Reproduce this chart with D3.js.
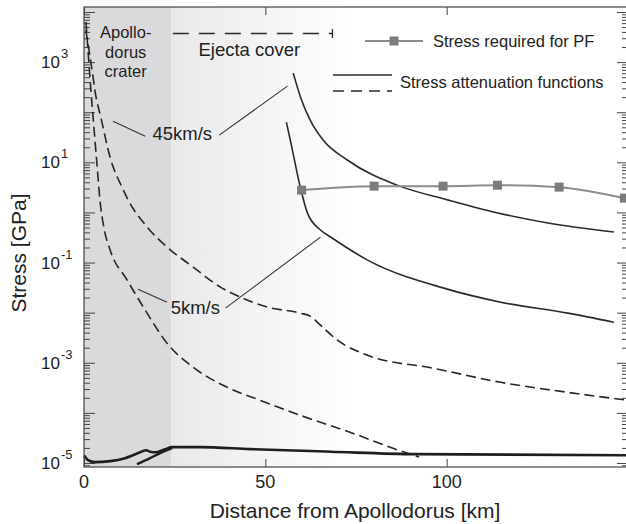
<!DOCTYPE html>
<html>
<head>
<meta charset="utf-8">
<script src="https://cdn.jsdelivr.net/npm/d3@7"></script>
<style>
    body { margin: 0; background: #fff; }
    svg text { font-family: "Liberation Sans", Arial, Helvetica, sans-serif; fill: #222; }
</style>
</head>
<body>
<svg id="chart" width="626" height="524"></svg>
<script>
// Axis values
const kmTicks = [0, 50, 100];
const labelExps = [3, 1, -1, -3, -5];

// Stress required for PF
const pfKm = [60, 80, 99, 114, 131, 149];
const pfGpa = [2.79, 3.35, 3.35, 3.5, 3.2, 1.93];

// Attenuation, 45 km/s, solid
const solid45Km = [57.7, 59.7, 62.4, 66.0, 72.7, 86.5, 100.3, 114.1, 127.9, 146.1];
const solid45Gpa = [603, 200, 69, 27.5, 11, 3.47, 1.78, 0.977, 0.617, 0.407];

// Attenuation, 5 km/s, solid
const solid5Km = [55.8, 56.9, 59.7, 61.6, 65.2, 68.0, 78.2, 99.2, 114.9, 133.4, 146.1];
const solid5Gpa = [63, 27.5, 3.05, 0.98, 0.447, 0.324, 0.112, 0.0309, 0.0162, 0.0098, 0.00646];

// Attenuation, 45 km/s, dashed
const dashed45Km = [0.5, 2.5, 3.0, 4.7, 7.2, 10.5, 12.2, 17.4, 22.9, 30.1, 37.6, 43.1, 50.6, 59.7, 62.4, 65.2, 69.9, 78.2, 96.4, 114.9, 133.4, 150];
const dashed45Gpa = [4370, 501, 275, 75.9, 12.6, 3.16, 1.76, 0.513, 0.204, 0.0813, 0.0324, 0.0204, 0.0129, 0.00977, 0.00851, 0.00562, 0.00282, 0.00141, 0.000776, 0.000407, 0.000257, 0.000178];

// Attenuation, 5 km/s, dashed
const dashed5Km = [0.55, 1.1, 1.9, 2.8, 3.6, 4.4, 5.5, 7.2, 11.9, 17.4, 22.9, 30.1, 39.5, 48.6, 59.7, 73.5, 87.3, 92.4];
const dashed5Gpa = [6300, 1740, 275, 43.7, 8.7, 1.76, 0.49, 0.178, 0.0447, 0.00977, 0.00245, 0.000813, 0.000324, 0.000178, 0.0000891, 0.0000407, 0.0000174, 0.0000132];

// Floor of the attenuation functions
const floorAKm = [0, 1.1, 3, 7.2, 11.3, 15.5, 17.1, 18.2, 19.9, 22.4, 24.3, 32, 45.9, 68, 91.4, 150];
const floorAGpa = [1.43e-5, 1.14e-5, 1.04e-5, 1.09e-5, 1.25e-5, 1.64e-5, 1.80e-5, 1.68e-5, 1.64e-5, 1.89e-5, 2.07e-5, 2.07e-5, 1.89e-5, 1.68e-5, 1.50e-5, 1.43e-5];
const floorBKm = [14.6, 18.2, 21, 24.3];
const floorBGpa = [0.946e-5, 1.25e-5, 1.57e-5, 1.98e-5];

// Regions
const craterKm = [0, 24];
const ejectaKm = [24, 75];

const svg = d3.select("#chart");
const x = d3.scaleLinear().domain([0, 150]).range([84, 628]);
const y = d3.scaleLog().domain([Math.pow(10, -5.08), Math.pow(10, 4.1)]).range([467, 7]);
const x0 = x.range()[0], x1 = x.range()[1];
const yTop = y.range()[1], yBot = y.range()[0];

const defs = svg.append("defs");
defs.append("clipPath").attr("id", "plot")
    .append("rect")
    .attr("x", x0).attr("y", yTop)
    .attr("width", x1 - x0).attr("height", yBot - yTop);

const grad = defs.append("linearGradient").attr("id", "ejecta")
    .attr("gradientUnits", "userSpaceOnUse")
    .attr("x1", x(ejectaKm[0])).attr("x2", x(ejectaKm[1]))
    .attr("y1", 0).attr("y2", 0);
grad.append("stop").attr("offset", 0).attr("stop-color", "#e9e9ea");
grad.append("stop").attr("offset", 1).attr("stop-color", "#ffffff");

// Background bands
svg.append("rect")
    .attr("x", x(craterKm[1])).attr("y", yTop)
    .attr("width", x1 - x(craterKm[1])).attr("height", yBot - yTop)
    .attr("fill", "url(#ejecta)");
svg.append("rect")
    .attr("x", x(craterKm[0])).attr("y", yTop)
    .attr("width", x(craterKm[1]) - x(craterKm[0])).attr("height", yBot - yTop)
    .attr("fill", "#dadadc");

// Log ticks, inside on left and right
const majors = [], minors = [];
for (let e = -6; e <= 4; e++) {
    majors.push(Math.pow(10, e));
    for (let k = 2; k <= 9; k++) minors.push(k * Math.pow(10, e));
}
const inY = v => v >= y.domain()[0] && v <= y.domain()[1];

function tickAxis(axis, tx) {
    const g = svg.append("g").attr("transform", tx).call(axis);
    g.select(".domain").remove();
    g.selectAll("line").attr("stroke", "#444");
    return g;
}
tickAxis(d3.axisLeft(y).tickValues(majors.filter(inY)).tickSize(-11).tickFormat(""), `translate(${x0},0)`);
tickAxis(d3.axisLeft(y).tickValues(minors.filter(inY)).tickSize(-6).tickFormat(""), `translate(${x0},0)`);
tickAxis(d3.axisRight(y).tickValues(majors.filter(inY)).tickSize(-11).tickFormat(""), `translate(${x1},0)`);
tickAxis(d3.axisRight(y).tickValues(minors.filter(inY)).tickSize(-6).tickFormat(""), `translate(${x1},0)`);
tickAxis(d3.axisBottom(x).tickValues(kmTicks).tickSize(-8).tickFormat(""), `translate(0,${yBot})`);
tickAxis(d3.axisTop(x).tickValues(kmTicks).tickSize(-8).tickFormat(""), `translate(0,${yTop})`);

// Curves
const plot = svg.append("g").attr("clip-path", "url(#plot)");
const line = d3.line().x(d => x(d[0])).y(d => y(d[1])).curve(d3.curveMonotoneX);
function curve(km, gpa, dash, color, width) {
    plot.append("path")
        .attr("d", line(km.map((k, i) => [k, gpa[i]])))
        .attr("fill", "none")
        .attr("stroke", color)
        .attr("stroke-width", width)
        .attr("stroke-dasharray", dash);
}
curve(dashed5Km, dashed5Gpa, "10,5", "#262626", 1.6);
curve(dashed45Km, dashed45Gpa, "10,5", "#262626", 1.6);
curve(floorAKm, floorAGpa, null, "#1e1e1e", 2.6);
curve(floorBKm, floorBGpa, null, "#1e1e1e", 2.4);
curve(solid45Km, solid45Gpa, null, "#2a2a2a", 1.6);
curve(solid5Km, solid5Gpa, null, "#2a2a2a", 1.6);

// PF stress with square markers
curve(pfKm, pfGpa, null, "#8c8c8c", 2);
plot.selectAll("rect.pf")
    .data(pfKm.map((k, i) => [k, pfGpa[i]]))
    .enter().append("rect")
    .attr("class", "pf")
    .attr("x", d => x(d[0]) - 4.5)
    .attr("y", d => y(d[1]) - 4.5)
    .attr("width", 9).attr("height", 9)
    .attr("fill", "#7c7c7c");

// Plot border
svg.append("rect")
    .attr("x", x0).attr("y", yTop)
    .attr("width", x1 - x0).attr("height", yBot - yTop)
    .attr("fill", "none").attr("stroke", "#444").attr("stroke-width", 1.2);

// Tick labels
svg.selectAll("text.xt")
    .data(kmTicks)
    .enter().append("text")
    .attr("x", d => x(d)).attr("y", 488)
    .attr("text-anchor", "middle")
    .style("font-size", "18px")
    .text(d => d);
labelExps.forEach(e => {
    const ty = y(Math.pow(10, e));
    svg.append("text").attr("x", 60).attr("y", ty + 6)
        .attr("text-anchor", "end").style("font-size", "17px").text("10");
    svg.append("text").attr("x", 61).attr("y", ty - 4)
        .style("font-size", "13px").text(e);
});

// Axis titles
svg.append("text")
    .attr("x", 355).attr("y", 518)
    .attr("text-anchor", "middle")
    .style("font-size", "21px")
    .text("Distance from Apollodorus [km]");
svg.append("text")
    .attr("transform", "translate(26,253) rotate(-90)")
    .attr("text-anchor", "middle")
    .style("font-size", "21px")
    .text("Stress [GPa]");

// Region labels
const craterX = x(11.5);
["Apollo-", "dorus", "crater"].forEach((t, i) => {
    svg.append("text")
        .attr("x", craterX).attr("y", yTop + 31 + i * 19.5)
        .attr("text-anchor", "middle")
        .style("font-size", "16.5px")
        .text(t);
});
svg.append("text")
    .attr("x", x(45.6)).attr("y", yTop + 49)
    .attr("text-anchor", "middle")
    .style("font-size", "18.5px")
    .text("Ejecta cover");
svg.append("line")
    .attr("x1", x(24.5)).attr("x2", x(68.5))
    .attr("y1", yTop + 26.5).attr("y2", yTop + 26.5)
    .attr("stroke", "#2a2a2a").attr("stroke-width", 1.3)
    .attr("stroke-dasharray", "16,10");
svg.append("line")
    .attr("x1", x(68.5)).attr("x2", x(68.5))
    .attr("y1", yTop + 22).attr("y2", yTop + 31)
    .attr("stroke", "#2a2a2a").attr("stroke-width", 1.3);

// Velocity annotations with leader lines
function note(label, pos, leaders) {
    svg.append("text")
        .attr("x", x(pos[0])).attr("y", y(pos[1]))
        .attr("dy", "0.35em")
        .attr("text-anchor", "middle")
        .style("font-size", "18.5px")
        .text(label);
    leaders.forEach(l => {
        svg.append("line")
            .attr("x1", x(l[0])).attr("y1", y(l[1]))
            .attr("x2", x(l[2])).attr("y2", y(l[3]))
            .attr("stroke", "#333").attr("stroke-width", 1.1);
    });
}
note("45km/s", [27.1, 38.3], [[8.0, 66, 16.9, 33.3], [37.3, 34.9, 56.1, 332]]);
note("5km/s", [30.7, 0.0129], [[14.9, 0.0294, 22.9, 0.0162], [39.0, 0.0123, 65.2, 0.321]]);

// Legend
const legend = svg.append("g");
legend.append("line")
    .attr("x1", 365).attr("x2", 423).attr("y1", 41).attr("y2", 41)
    .attr("stroke", "#8c8c8c").attr("stroke-width", 2);
legend.append("rect")
    .attr("x", 389.5).attr("y", 36.5).attr("width", 9).attr("height", 9)
    .attr("fill", "#7c7c7c");
legend.append("text")
    .attr("x", 433).attr("y", 41).attr("dy", "0.35em")
    .style("font-size", "16.5px")
    .text("Stress required for PF");
legend.append("line")
    .attr("x1", 333).attr("x2", 392).attr("y1", 75).attr("y2", 75)
    .attr("stroke", "#2a2a2a").attr("stroke-width", 1.6);
legend.append("line")
    .attr("x1", 333).attr("x2", 392).attr("y1", 91).attr("y2", 91)
    .attr("stroke", "#2a2a2a").attr("stroke-width", 1.6)
    .attr("stroke-dasharray", "11,7");
legend.append("text")
    .attr("x", 400).attr("y", 82).attr("dy", "0.35em")
    .style("font-size", "16.5px")
    .text("Stress attenuation functions");
</script>
</body>
</html>
